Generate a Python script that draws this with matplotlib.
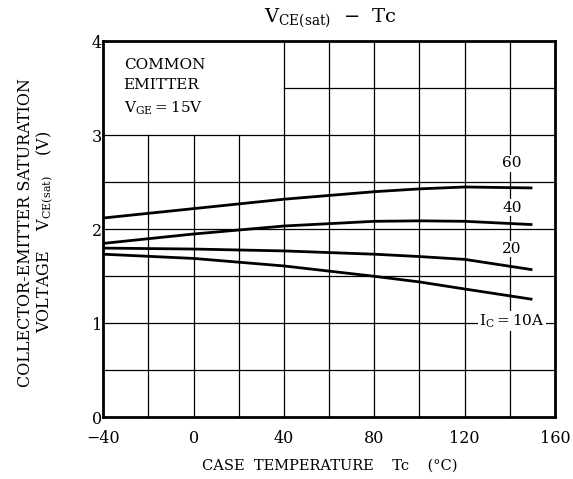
import matplotlib
matplotlib.use("Agg")
import matplotlib.pyplot as plt

plt.rcParams['font.family'] = ['DejaVu Serif']
plt.rcParams['mathtext.fontset'] = 'dejavuserif'

temps = [-40, 0, 40, 80, 100, 120, 150]
vce_60 = [2.12, 2.22, 2.32, 2.40, 2.43, 2.45, 2.44]
vce_40 = [1.85, 1.95, 2.035, 2.085, 2.09, 2.085, 2.05]
vce_20 = [1.80, 1.79, 1.77, 1.735, 1.71, 1.68, 1.57]
vce_10 = [1.735, 1.69, 1.61, 1.50, 1.44, 1.365, 1.255]
curve_labels = ["60", "40", "20", r"$\mathregular{I_C=10A}$"]
label_y = [2.70, 2.23, 1.79, 1.02]

fig = plt.figure(figsize=(5.73, 4.79), dpi=100)
ax = fig.add_axes([0.1803, 0.1288, 0.7883, 0.785])
ax.set_xlim(-40, 160)
ax.set_ylim(0, 4)

# grid, left-top corner kept blank for the note
for x in [-20, 0, 20]:
    ax.plot([x, x], [0, 3], color='black', lw=0.9, zorder=1)
for x in [40, 60, 80, 100, 120, 140]:
    ax.plot([x, x], [0, 4], color='black', lw=0.9, zorder=1)
for y in [0.5, 1, 1.5, 2, 2.5, 3]:
    ax.plot([-40, 160], [y, y], color='black', lw=0.9, zorder=1)
ax.plot([40, 160], [3.5, 3.5], color='black', lw=0.9, zorder=1)

for v in [vce_60, vce_40, vce_20, vce_10]:
    ax.plot(temps, v, color='black', lw=2.0, zorder=3, solid_capstyle='butt')

for lab, y in zip(curve_labels, label_y):
    ax.text(141, y, lab, ha='center', va='center', fontsize=11, zorder=4,
            bbox=dict(facecolor='white', edgecolor='none', pad=1))

ax.text(-31, 3.75, "COMMON", fontsize=11, va='center')
ax.text(-31, 3.53, "EMITTER", fontsize=11, va='center')
ax.text(-31, 3.29, r"$\mathregular{V_{GE}=15V}$", fontsize=11, va='center')

ax.set_xticks([-40, 0, 40, 80, 120, 160])
ax.set_xticklabels(["\u221240", "0", "40", "80", "120", "160"])
ax.set_yticks([0, 1, 2, 3, 4])
ax.tick_params(length=0, labelsize=11.5)
ax.tick_params(axis='y', pad=1)
ax.tick_params(axis='x', pad=9)
for s in ax.spines.values():
    s.set_linewidth(2)

fig.text(0.576, 0.962, r"$\mathregular{V_{CE(sat)}}$  " + "\u2212  Tc", ha='center',
         va='center', fontsize=14)
fig.text(0.576, 0.027, "CASE  TEMPERATURE    Tc    (\u00b0C)", ha='center',
         va='center', fontsize=10.5)
fig.text(0.044, 0.515, "COLLECTOR-EMITTER SATURATION", rotation=90,
         ha='center', va='center', fontsize=11.5)
fig.text(0.079, 0.515, r"VOLTAGE    $\mathregular{V_{CE(sat)}}$    (V)", rotation=90,
         ha='center', va='center', fontsize=11.5)

fig.savefig("out.png", dpi=100)
